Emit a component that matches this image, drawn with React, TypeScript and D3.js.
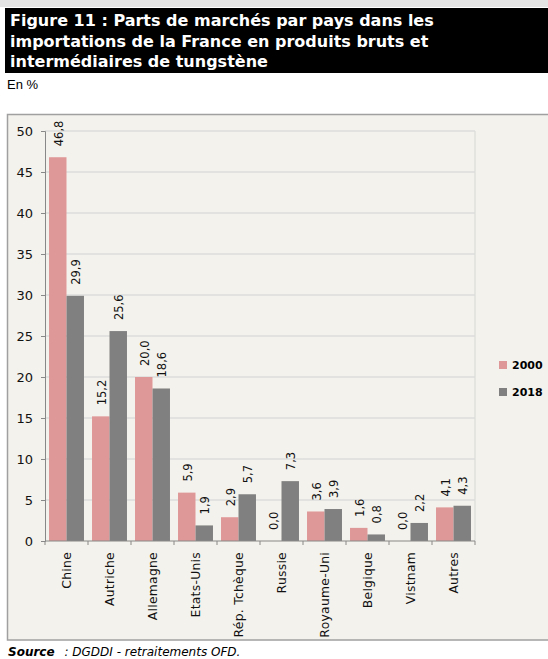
import { useEffect, useRef } from "react";
import * as d3 from "d3";

const categories = [
    "Chine",
    "Autriche",
    "Allemagne",
    "Etats-Unis",
    "Rép. Tchèque",
    "Russie",
    "Royaume-Uni",
    "Belgique",
    "Vistnam",
    "Autres",
];
const seriesNames = ["2000", "2018"];
const values2000 = [46.8, 15.2, 20.0, 5.9, 2.9, 0.0, 3.6, 1.6, 0.0, 4.1];
const values2018 = [29.9, 25.6, 18.6, 1.9, 5.7, 7.3, 3.9, 0.8, 2.2, 4.3];
const yTicks = [0, 5, 10, 15, 20, 25, 30, 35, 40, 45, 50];
const titleLines = [
    "Figure 11 : Parts de marchés par pays dans les",
    "importations de la France en produits bruts et",
    "intermédiaires de tungstène",
];

export default function App() {
    const svgRef = useRef<SVGSVGElement | null>(null);

    useEffect(() => {
        if (!svgRef.current) return;
        const root = d3.select(svgRef.current);
        root.selectAll("*").remove();

        const width = 548;
        const font = "'DejaVu Sans', Verdana, sans-serif";
        const colors = ["#df9898", "#808080"];
        const series = [values2000, values2018];

        // header
        root.append("rect").attr("x", 0).attr("y", 0).attr("width", width).attr("height", 7).attr("fill", "#e4e4e4");
        root.append("rect").attr("x", 5).attr("y", 8).attr("width", width - 5).attr("height", 65).attr("fill", "#000");
        root.selectAll(".title")
            .data(titleLines)
            .enter()
            .append("text")
            .attr("x", 10)
            .attr("y", (d, i) => 26 + i * 20.5)
            .attr("fill", "#fff")
            .attr("font-family", font)
            .attr("font-weight", "bold")
            .attr("font-size", "16px")
            .text((d) => d);
        root.append("text")
            .attr("x", 7)
            .attr("y", 89)
            .attr("font-family", "'Liberation Sans', Arial, sans-serif")
            .attr("font-size", "13px")
            .attr("fill", "#000")
            .text("En %");

        // chart frame
        root.append("rect")
            .attr("x", 7.5)
            .attr("y", 114.5)
            .attr("width", width + 10)
            .attr("height", 525.5)
            .attr("fill", "#f4f2ec")
            .attr("stroke", "#a0a0a0")
            .attr("stroke-width", 1.5);

        const margin = { top: 131, left: 45, right: 475, bottom: 541 };

        const x = d3.scaleBand().domain(categories).range([margin.left, margin.right]);
        const xInner = d3
            .scaleBand()
            .domain(seriesNames)
            .range([0, x.bandwidth()])
            .paddingOuter(0.23)
            .paddingInner(0);
        const y = d3.scaleLinear().domain([0, 50]).range([margin.bottom, margin.top]);

        // grid
        root.append("g")
            .selectAll("line")
            .data(yTicks.filter((t) => t > 0))
            .enter()
            .append("line")
            .attr("x1", margin.left)
            .attr("x2", margin.right)
            .attr("y1", (d) => y(d))
            .attr("y2", (d) => y(d))
            .attr("stroke", "#dcdcdc")
            .attr("stroke-width", 1.3);
        root.append("line")
            .attr("x1", margin.right)
            .attr("x2", margin.right)
            .attr("y1", margin.top)
            .attr("y2", margin.bottom)
            .attr("stroke", "#dcdcdc")
            .attr("stroke-width", 1.3);

        // bars
        const groups = root
            .append("g")
            .selectAll("g")
            .data(categories)
            .enter()
            .append("g")
            .attr("transform", (d) => `translate(${x(d)},0)`);

        seriesNames.forEach((name, si) => {
            groups
                .append("rect")
                .attr("x", () => xInner(name) || 0)
                .attr("width", xInner.bandwidth())
                .attr("y", (d, i) => y(series[si][i]))
                .attr("height", (d, i) => y(0) - y(series[si][i]))
                .attr("fill", colors[si]);

            groups
                .append("text")
                .attr(
                    "transform",
                    (d, i) =>
                        `translate(${(xInner(name) || 0) + xInner.bandwidth() / 2 + 1},${y(series[si][i]) - 11}) rotate(-90)`
                )
                .attr("dy", "0.35em")
                .attr("font-family", font)
                .attr("font-size", "11.5px")
                .attr("fill", "#111")
                .text((d, i) => d3.format(".1f")(series[si][i]).replace(".", ","));
        });

        // y axis
        const yAxis = root
            .append("g")
            .attr("transform", `translate(${margin.left},0)`)
            .call(d3.axisLeft(y).tickValues(yTicks).tickSize(4).tickPadding(8));
        yAxis.select(".domain").attr("stroke", "#888");
        yAxis.selectAll(".tick line").attr("stroke", "#888");
        yAxis.selectAll("text").attr("font-family", font).attr("font-size", "13px").attr("fill", "#111");

        // x axis
        root.append("line")
            .attr("x1", margin.left)
            .attr("x2", margin.right)
            .attr("y1", margin.bottom)
            .attr("y2", margin.bottom)
            .attr("stroke", "#888");
        root.append("g")
            .selectAll("line")
            .data(categories.concat([""]))
            .enter()
            .append("line")
            .attr("x1", (d, i) => margin.left + i * x.step())
            .attr("x2", (d, i) => margin.left + i * x.step())
            .attr("y1", margin.bottom)
            .attr("y2", margin.bottom + 4)
            .attr("stroke", "#888");
        root.append("g")
            .selectAll("text")
            .data(categories)
            .enter()
            .append("text")
            .attr("transform", (d) => `translate(${(x(d) || 0) + x.bandwidth() / 2},${margin.bottom + 11}) rotate(-90)`)
            .attr("text-anchor", "end")
            .attr("dy", "0.35em")
            .attr("font-family", font)
            .attr("font-size", "12.3px")
            .attr("letter-spacing", "0.3px")
            .attr("fill", "#111")
            .text((d) => d);

        // legend
        const legend = root
            .append("g")
            .selectAll("g")
            .data(seriesNames)
            .enter()
            .append("g")
            .attr("transform", (d, i) => `translate(499,${365 + i * 27})`);
        legend
            .append("rect")
            .attr("x", 0)
            .attr("y", -4)
            .attr("width", 8)
            .attr("height", 8)
            .attr("fill", (d, i) => colors[i]);
        legend
            .append("text")
            .attr("x", 13)
            .attr("dy", "0.35em")
            .attr("font-family", font)
            .attr("font-weight", "bold")
            .attr("font-size", "11px")
            .attr("fill", "#000")
            .text((d) => d);

        // source
        const src = root
            .append("text")
            .attr("x", 8)
            .attr("y", 656)
            .attr("font-family", font)
            .attr("font-style", "italic")
            .attr("font-size", "12px")
            .attr("fill", "#000");
        src.append("tspan").attr("font-weight", "bold").text("Source");
        src.append("tspan").attr("dx", 6).text(" : DGDDI - retraitements OFD.");
    }, []);

    return (
        <div style={{ position: "absolute", left: 0, top: 0 }}>
            <svg ref={svgRef} width={548} height={659} style={{ display: "block", background: "#fff" }} />
        </div>
    );
}
